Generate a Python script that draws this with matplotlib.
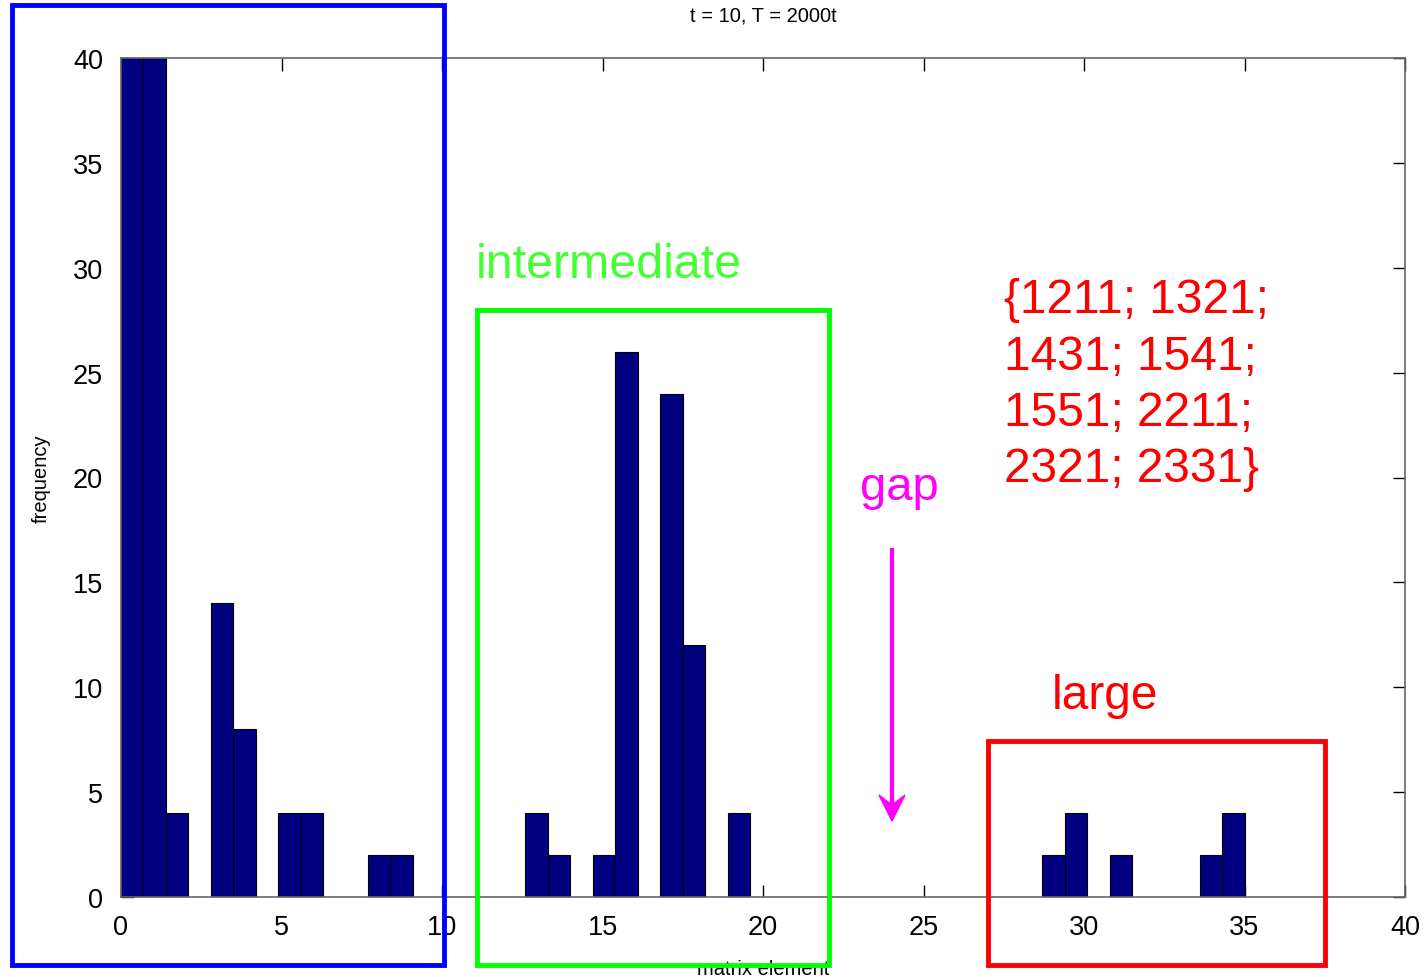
import numpy as np
import matplotlib.pyplot as plt
from matplotlib.patches import Rectangle, Polygon

plt.rcParams['font.family'] = ['Liberation Sans', 'DejaVu Sans']

# histogram bins (width 0.7, left edges) and counts
bin_width = 0.7
bin_left = [0.0, 0.7, 1.4, 2.8, 3.5, 4.9, 5.6, 7.7, 8.4,
            12.6, 13.3, 14.7, 15.4, 16.8, 17.5, 18.9,
            28.7, 29.4, 30.8, 33.6, 34.3]
counts = [40, 40, 4, 14, 8, 4, 4, 2, 2,
          4, 2, 2, 26, 24, 12, 4,
          2, 4, 2, 2, 4]

xticks = [0, 5, 10, 15, 20, 25, 30, 35, 40]
yticks = [0, 5, 10, 15, 20, 25, 30, 35, 40]

W, H = 1428, 978
fig = plt.figure(figsize=(W / 100, H / 100), dpi=100)
ax = fig.add_axes([121 / W, 1 - 898 / H, (1405 - 121) / W, (898 - 59) / H])

ax.bar(bin_left, counts, width=bin_width, align='edge',
       color='#000080', edgecolor='black', linewidth=0.8, zorder=2)

ax.set_xlim(0, 40)
ax.set_ylim(0, 40)
ax.set_xticks(xticks)
ax.set_yticks(yticks)
ax.tick_params(direction='in', length=9, width=1, top=True, right=True,
               labelsize=19.5, colors='black')
ax.tick_params(axis='x', pad=12)
ax.tick_params(axis='y', pad=13)
for sp in ax.spines.values():
    sp.set_color('#666666')
    sp.set_linewidth(1.2)

ax.set_xlabel('matrix element', fontsize=14.5)
ax.xaxis.set_label_coords(0.5, -0.074)
ax.set_ylabel('frequency', fontsize=14.5)
ax.yaxis.set_label_coords(-0.055, 0.5)
fig.text(763 / W, 1 - 16 / H, 't = 10, T = 2000t', ha='center', va='center',
         fontsize=14.5)

# overlay in pixel coords for the hand-drawn boxes and notes
ov = fig.add_axes([0, 0, 1, 1], zorder=5)
ov.set_xlim(0, W)
ov.set_ylim(H, 0)
ov.axis('off')
ov.patch.set_visible(False)

ov.add_patch(Rectangle((12, 6), 432, 960, fill=False, ec='#0000ff', lw=3.5))
ov.add_patch(Rectangle((477, 311), 352, 655, fill=False, ec='#00ff00', lw=3.5))
ov.add_patch(Rectangle((988, 742), 337, 224, fill=False, ec='#ff0000', lw=3.5))

ov.text(476, 278, 'intermediate', color='#44ff33', fontsize=34.8, va='baseline')
ov.text(860, 500, 'gap', color='#ff00ff', fontsize=34, va='baseline')
ov.text(1052, 709, 'large', color='#ff0000', fontsize=34.5, va='baseline')
ov.text(1004, 482, '{1211; 1321;\n1431; 1541;\n1551; 2211;\n2321; 2331}',
        color='#ff0000', fontsize=34.5, va='baseline', linespacing=1.32)

# magenta arrow
ov.plot([892, 892], [551, 805], color='#ff00ff', lw=3)
ov.add_patch(Polygon([(892, 822), (879, 796), (892, 806), (905, 796)],
                     closed=True, color='#ff00ff'))

fig.savefig('out.png', dpi=100)
